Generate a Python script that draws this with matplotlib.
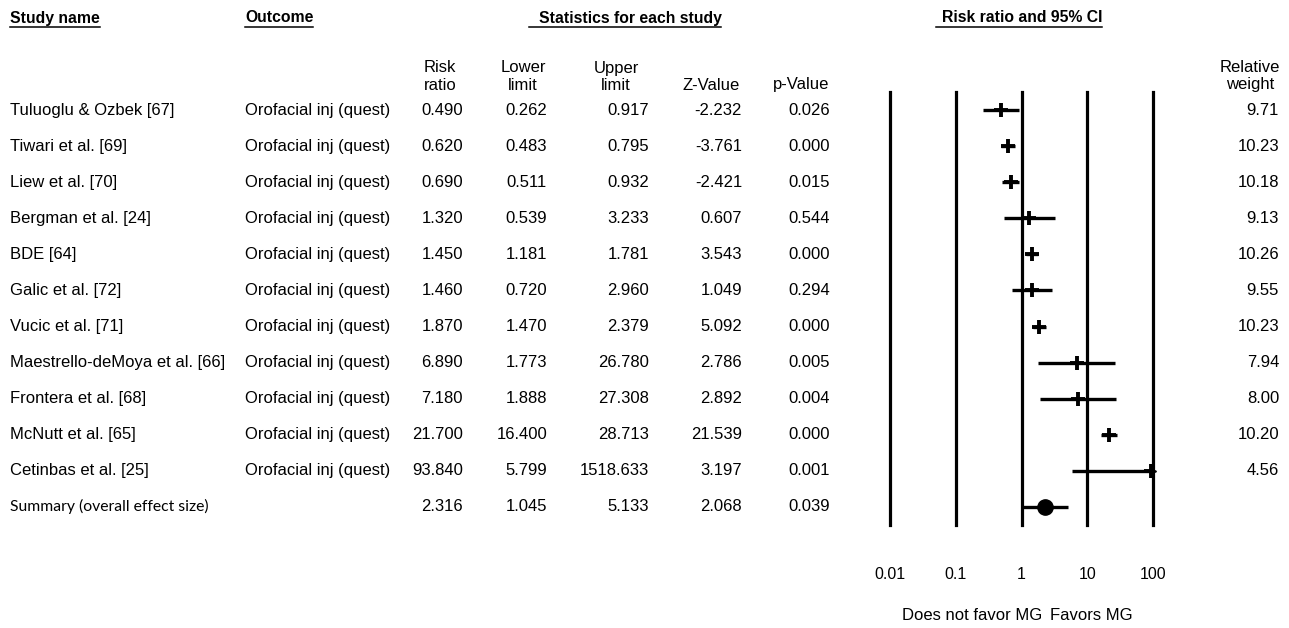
import matplotlib
matplotlib.use("Agg")
import matplotlib.pyplot as plt
import matplotlib.transforms as mtransforms

studies = ["Tuluoglu & Ozbek [67]", "Tiwari et al. [69]", "Liew et al. [70]",
           "Bergman et al. [24]", "BDE [64]", "Galic et al. [72]", "Vucic et al. [71]",
           "Maestrello-deMoya et al. [66]", "Frontera et al. [68]", "McNutt et al. [65]",
           "Cetinbas et al. [25]"]
outcome = "Orofacial inj (quest)"
risk_ratio = [0.490, 0.620, 0.690, 1.320, 1.450, 1.460, 1.870, 6.890, 7.180, 21.700, 93.840]
lower = [0.262, 0.483, 0.511, 0.539, 1.181, 0.720, 1.470, 1.773, 1.888, 16.400, 5.799]
upper = [0.917, 0.795, 0.932, 3.233, 1.781, 2.960, 2.379, 26.780, 27.308, 28.713, 1518.633]
z_value = [-2.232, -3.761, -2.421, 0.607, 3.543, 1.049, 5.092, 2.786, 2.892, 21.539, 3.197]
p_value = [0.026, 0.000, 0.015, 0.544, 0.000, 0.294, 0.000, 0.005, 0.004, 0.000, 0.001]
rel_weight = [9.71, 10.23, 10.18, 9.13, 10.26, 9.55, 10.23, 7.94, 8.00, 10.20, 4.56]
summary_label = "Summary (overall effect size)"
summary = dict(rr=2.316, lo=1.045, hi=5.133, z=2.068, p=0.039)
ticks = [0.01, 0.1, 1, 10, 100]
tick_labels = ["0.01", "0.1", "1", "10", "100"]

W, H = 1289, 628
fig = plt.figure(figsize=(W / 100, H / 100), dpi=100)
plt.rcParams['font.family'] = ['Liberation Sans', 'DejaVu Sans']

ax_t = fig.add_axes([0, 0, 1, 1])
ax_t.set_xlim(0, W)
ax_t.set_ylim(H, 0)
ax_t.axis("off")

x0, x1, ytop, ybot = 890, 1153, 92, 525
ax_f = fig.add_axes([x0 / W, (H - ybot) / H, (x1 - x0) / W, (ybot - ytop) / H])
ax_f.set_xscale("log")
ax_f.set_xlim(ticks[0], ticks[-1])
n = len(studies)
ax_f.set_ylim(n + 0.5, -0.5)
for s in ax_f.spines.values():
    s.set_visible(False)
ax_f.set_yticks([])
ax_f.minorticks_off()
ax_f.set_xticks(ticks)
ax_f.set_xticklabels(tick_labels, fontsize=11.5)
ax_f.tick_params(axis="x", length=0, pad=30)
ax_f.patch.set_alpha(0)

for t in ticks:
    ax_f.axvline(t, color="black", lw=2.3, clip_on=False, zorder=1)

xmax = ticks[-1]
for i in range(n):
    ax_f.hlines(i, lower[i], upper[i], color="black", lw=2.4, zorder=3)
    ax_f.plot(risk_ratio[i], i, marker="+", ms=10, mew=2.8, color="black", zorder=4)
    if upper[i] > xmax:
        ax_f.plot(xmax, i, marker=">", ms=5, color="black", clip_on=False, zorder=4)
ax_f.hlines(n, summary["lo"], summary["hi"], color="black", lw=2.4, zorder=3)
ax_f.plot(summary["rr"], n, marker="o", ms=11, color="black", zorder=4)

tr = mtransforms.blended_transform_factory(ax_t.transData, ax_f.transData)
fs = 12
col_right = [463, 547, 649, 742, 830]
for i in range(n):
    ax_t.text(10, i, studies[i], transform=tr, fontsize=fs, va="center", ha="left")
    ax_t.text(245, i, outcome, transform=tr, fontsize=fs, va="center", ha="left")
    vals = [f"{risk_ratio[i]:.3f}", f"{lower[i]:.3f}", f"{upper[i]:.3f}",
            f"{z_value[i]:.3f}", f"{p_value[i]:.3f}"]
    for x, v in zip(col_right, vals):
        ax_t.text(x, i, v, transform=tr, fontsize=fs, va="center", ha="right")
    ax_t.text(1279, i, f"{rel_weight[i]:.2f}", transform=tr, fontsize=fs, va="center", ha="right")

ax_t.text(10, n, summary_label, transform=tr, fontsize=11.3, va="center", ha="left",
          family=["Lato", "DejaVu Sans"])
svals = [f"{summary['rr']:.3f}", f"{summary['lo']:.3f}", f"{summary['hi']:.3f}",
         f"{summary['z']:.3f}", f"{summary['p']:.3f}"]
for x, v in zip(col_right, svals):
    ax_t.text(x, n, v, transform=tr, fontsize=fs, va="center", ha="right")

# sub headers
y1, y2 = 68, 85
ax_t.text(440, y1, "Risk", fontsize=fs, ha="center", va="center")
ax_t.text(440, y2, "ratio", fontsize=fs, ha="center", va="center")
ax_t.text(523, y1, "Lower", fontsize=fs, ha="center", va="center")
ax_t.text(523, y2, "limit", fontsize=fs, ha="center", va="center")
ax_t.text(616, y1, "Upper", fontsize=fs, ha="center", va="center")
ax_t.text(616, y2, "limit", fontsize=fs, ha="center", va="center")
ax_t.text(711, y2, "Z-Value", fontsize=fs, ha="center", va="center")
ax_t.text(801, y2, "p-Value", fontsize=fs, ha="center", va="center")
ax_t.text(1250, y1, "Relative", fontsize=fs, ha="center", va="center")
ax_t.text(1250, y2, "weight", fontsize=fs, ha="center", va="center")

# headers with underline
headers = [(10, "Study name", "left", 0), (245, "Outcome", "left", 0),
           (630, "Statistics for each study", "center", 10),
           (1022, "Risk ratio and 95% CI", "center", 6)]
fig.canvas.draw()
renderer = fig.canvas.get_renderer()
inv = ax_t.transData.inverted()
for x, s, ha, padl in headers:
    t = ax_t.text(x, 18, s, fontsize=11.3, fontweight="bold", ha=ha, va="center")
    bb = t.get_window_extent(renderer)
    (bx0, by0), (bx1, by1) = inv.transform([[bb.x0, bb.y0], [bb.x1, bb.y1]])
    ax_t.plot([bx0 - padl, bx1], [by0 + 1, by0 + 1], color="black", lw=1.1)

ax_t.text(1042, 615, "Does not favor MG", fontsize=fs, ha="right", va="center")
ax_t.text(1050, 615, "Favors MG", fontsize=fs, ha="left", va="center")

fig.savefig("out.png", dpi=100)
